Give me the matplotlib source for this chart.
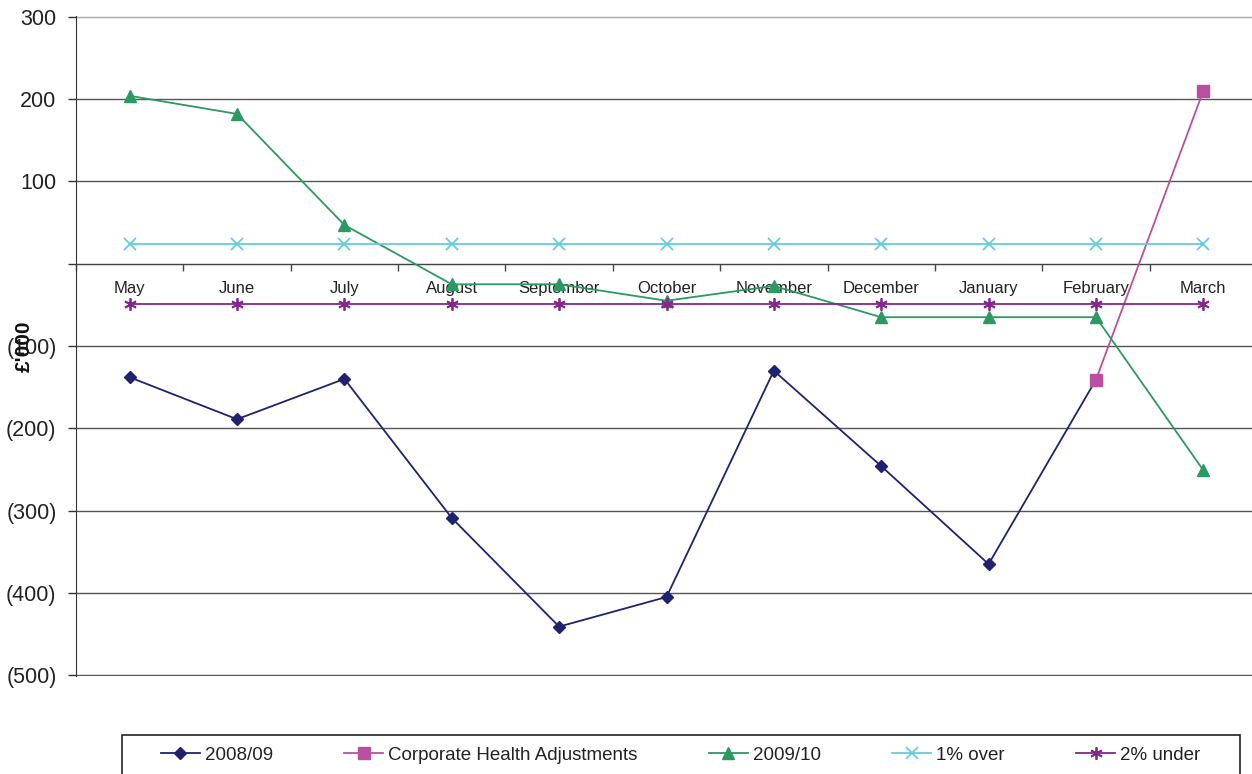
import numpy as np
import matplotlib
matplotlib.use("Agg")
import matplotlib.pyplot as plt
from matplotlib.ticker import FuncFormatter, FixedLocator
from matplotlib.patches import Rectangle

plt.rcParams['font.family'] = ['Liberation Sans', 'DejaVu Sans']

months = ["May", "June", "July", "August", "September", "October",
          "November", "December", "January", "February", "March"]

fy_2008_09 = [-138, -189, -140, -309, -441, -405, -130, -246, -365, -141, np.nan]
corporate_health = [np.nan] * 9 + [-141, 210]
fy_2009_10 = [204, 182, 47, -25, -25, -45, -27, -65, -65, -65, -251]
one_pct_over = [24] * 11
two_pct_under = [-49] * 11

y_ticks = [-500, -400, -300, -200, -100, 0, 100, 200, 300]

fig = plt.figure(figsize=(12.52, 7.74), dpi=100)
ax = fig.add_axes([76 / 1252, 1 - 676 / 774, (1257 - 76) / 1252, 660 / 774])

x = np.arange(len(months))

series = [
    (fy_2008_09, "2008/09", "#1f2270", dict(marker="D", markersize=6.5)),
    (corporate_health, "Corporate Health Adjustments", "#bb4f9f", dict(marker="s", markersize=8)),
    (fy_2009_10, "2009/10", "#2a9a62", dict(marker="^", markersize=8.5)),
    (one_pct_over, "1% over", "#66ccdd", dict(marker="x", markersize=8, markeredgewidth=1.3)),
    (two_pct_under, "2% under", "#84278a", dict(marker=(6, 2, 0), markersize=9, markeredgewidth=1.3)),
]
for vals, name, col, mk in series:
    ax.plot(x, vals, color=col, lw=1.3, label=name, zorder=3,
            markerfacecolor=col, markeredgecolor=col, **mk)

ax.set_xlim(-0.5, len(months) - 0.5)
ax.set_ylim(-501, 301)

# value axis
ax.yaxis.set_major_locator(FixedLocator(y_ticks))
ax.yaxis.set_major_formatter(FuncFormatter(
    lambda v, p: "" if v == 0 else (f"({-v:.0f})" if v < 0 else f"{v:.0f}")))
ax.tick_params(axis="y", direction="out", length=6, width=1, color="#333333",
               labelsize=15.5, pad=8, labelcolor="#222222")
ax.grid(axis="y", color="#555555", lw=1, zorder=0)
ax.set_axisbelow(True)
ax.get_ygridlines()[-1].set_color("#aaaaaa")

# category axis runs along zero
ax.spines["top"].set_visible(False)
ax.spines["right"].set_visible(False)
ax.spines["left"].set_color("#333333")
ax.spines["bottom"].set_position(("data", 0))
ax.spines["bottom"].set_color("#444444")
ax.xaxis.set_major_locator(FixedLocator(np.arange(len(months) + 1) - 0.5))
ax.tick_params(axis="x", direction="out", length=5, width=1, color="#444444",
               labelbottom=False)
for i, m in enumerate(months):
    ax.text(i, -30, m, ha="center", va="center", fontsize=12,
            color="#222222", zorder=1)

fig.text(24 / 1252, 1 - 346 / 774, "£'000", rotation=90, ha="center",
         va="center", fontsize=15, fontweight="bold", color="#111111")

# legend box along the bottom
fig.patches.append(Rectangle((122 / 1252, -0.05), (1240 - 122) / 1252,
                             (774 - 735) / 774 + 0.05,
                             transform=fig.transFigure, fill=False,
                             ec="#222222", lw=1.2))
fig.legend(loc="center left", bbox_to_anchor=(153 / 1252, 1 - 755 / 774),
           ncol=5, frameon=False, fontsize=13.5, handlelength=2.1,
           handletextpad=0.25, columnspacing=3.8, borderaxespad=0,
           labelcolor="#222222")

fig.savefig("out.png", dpi=100)
